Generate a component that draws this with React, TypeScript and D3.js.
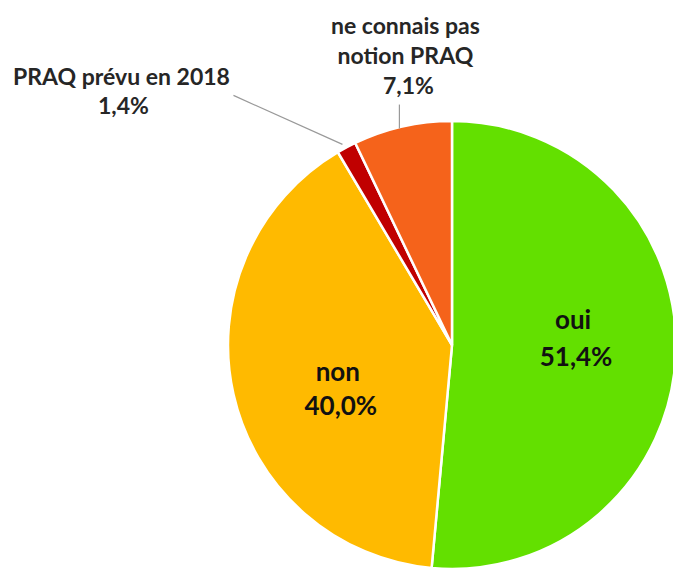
import React from "react";
import * as d3 from "d3";

const categories = ["oui", "non", "PRAQ prévu en 2018", "ne connais pas notion PRAQ"];
const values = [51.4, 40.0, 1.4, 7.1];
const valueLabels = ["51,4%", "40,0%", "1,4%", "7,1%"];
const nameLines = [["oui"], ["non"], ["PRAQ prévu en 2018"], ["ne connais pas", "notion PRAQ"]];
const colors = ["#63E000", "#FFBA00", "#C00000", "#F5631B"];

export default function App() {
  const W = 673, H = 570;
  const cx = 452, cy = 345, r = 224;
  const pie = d3.pie<number>().sort(null).value((d) => d).startAngle(0).endAngle(2 * Math.PI);
  const arcs = pie(values);
  const arc = d3.arc<d3.PieArcDatum<number>>().innerRadius(0).outerRadius(r);
  const font = "Lato, 'Open Sans', sans-serif";
  const pt = (a: number, rad: number) => [Math.sin(a) * rad, -Math.cos(a) * rad];
  const mid = (a: d3.PieArcDatum<number>) => (a.startAngle + a.endAngle) / 2;

  const [ox, oy] = pt(mid(arcs[0]), r * 0.55);
  const [nx, ny] = pt(mid(arcs[1]), r * 0.55);
  const [prx, pry] = pt(mid(arcs[2]), r);
  const [ncx, ncy] = pt(mid(arcs[3]), r);

  return (
    <svg width={W} height={H} style={{ position: "absolute", left: 0, top: 0, background: "#fff" }}>
      <g transform={`translate(${cx},${cy})`}>
        {arcs.map((a, i) => (
          <path key={i} d={arc(a) || ""} fill={colors[i]} stroke="#fff" strokeWidth={2.5} />
        ))}
        <text textAnchor="middle" fontFamily={font} fontWeight={700} fontSize={26} fill="#111">
          <tspan x={ox - 2} y={oy - 22}>{nameLines[0][0]}</tspan>
          <tspan x={ox + 1} y={oy + 15}>{valueLabels[0]}</tspan>
        </text>
        <text textAnchor="middle" fontFamily={font} fontWeight={700} fontSize={26} fill="#111">
          <tspan x={nx + 6} y={ny + 9}>{nameLines[1][0]}</tspan>
          <tspan x={nx + 9} y={ny + 43}>{valueLabels[1]}</tspan>
        </text>
        <line x1={prx - 4} y1={pry - 3} x2={prx - 113} y2={pry - 52} stroke="#999" strokeWidth={1.2} />
        <text textAnchor="middle" fontFamily={font} fontWeight={700} fontSize={23} fill="#262626">
          <tspan x={prx - 225} y={pry - 62}>{nameLines[2][0]}</tspan>
          <tspan x={prx - 223} y={pry - 33}>{valueLabels[2]}</tspan>
        </text>
        <line x1={ncx - 3} y1={ncy + 2} x2={ncx - 3} y2={ncy - 22} stroke="#999" strokeWidth={1.2} />
        <text textAnchor="middle" fontFamily={font} fontWeight={700} fontSize={23} fill="#262626">
          <tspan x={ncx + 3} y={ncy - 93}>{nameLines[3][0]}</tspan>
          <tspan x={ncx + 3} y={ncy - 63}>{nameLines[3][1]}</tspan>
          <tspan x={ncx + 6} y={ncy - 33}>{valueLabels[3]}</tspan>
        </text>
      </g>
    </svg>
  );
}
